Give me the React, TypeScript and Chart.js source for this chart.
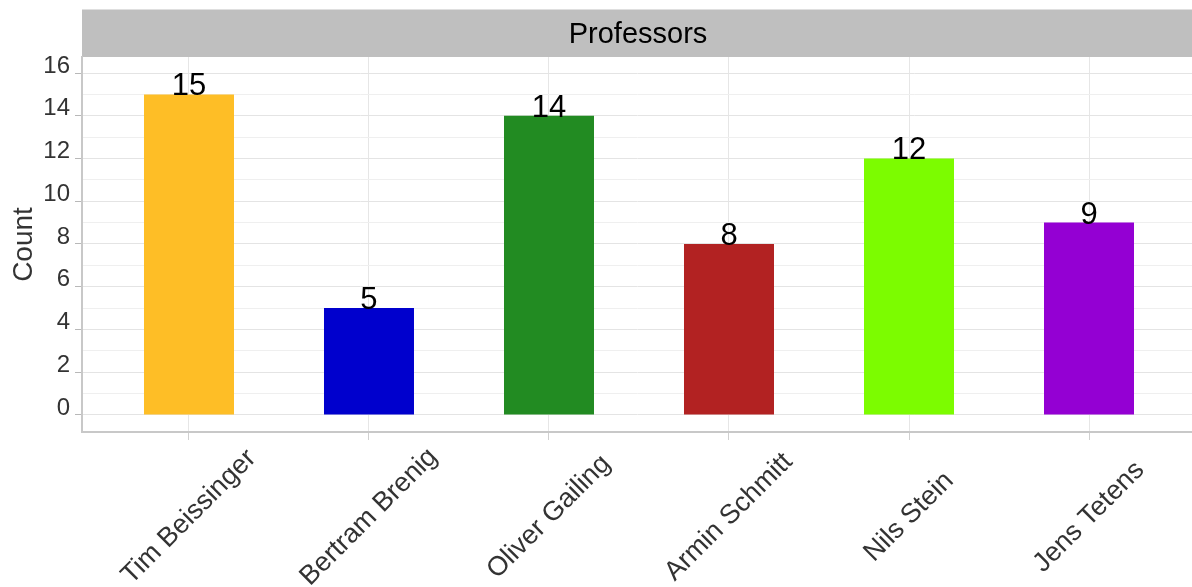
import React, { useEffect, useRef } from 'react';
import { Chart, registerables } from 'chart.js';

Chart.register(...registerables);

const categories = ['Tim Beissinger', 'Bertram Brenig', 'Oliver Gailing', 'Armin Schmitt', 'Nils Stein', 'Jens Tetens'];
const counts = [15, 5, 14, 8, 12, 9];
const barColors = ['#FEBE26', '#0000CD', '#228B22', '#B22222', '#7CFC00', '#9400D3'];
const yTickValues = [0, 1, 2, 3, 4, 5, 6, 7, 8, 9, 10, 11, 12, 13, 14, 15, 16];
const chartTitle = 'Professors';
const yAxisTitle = 'Count';

const FONT = '"Liberation Sans", Arial, Helvetica, sans-serif';

export default function App() {
  const ref = useRef<HTMLCanvasElement | null>(null);

  useEffect(() => {
    if (!ref.current) return;

    const titleBar = {
      id: 'titleBar',
      beforeDraw(chart: any) {
        const { ctx, chartArea } = chart;
        ctx.save();
        ctx.fillStyle = '#bfbfbf';
        ctx.fillRect(chartArea.left, 9.5, chartArea.right - chartArea.left, chartArea.top - 9.5);
        ctx.fillStyle = '#000';
        ctx.font = '29px ' + FONT;
        ctx.textAlign = 'center';
        ctx.textBaseline = 'alphabetic';
        ctx.fillText(chartTitle, (chartArea.left + chartArea.right) / 2 + 1, chartArea.top - 14);
        ctx.restore();
      },
    };

    const valueLabels = {
      id: 'valueLabels',
      afterDatasetsDraw(chart: any) {
        const { ctx } = chart;
        const meta = chart.getDatasetMeta(0);
        ctx.save();
        ctx.fillStyle = '#000';
        ctx.font = '31px ' + FONT;
        ctx.textAlign = 'center';
        ctx.textBaseline = 'alphabetic';
        meta.data.forEach((el: any, i: number) => {
          ctx.fillText(String(counts[i]), el.x, el.y + 1);
        });
        ctx.restore();
      },
    };

    const xLabels = {
      id: 'xLabels',
      afterDraw(chart: any) {
        const { ctx, chartArea } = chart;
        const xs = chart.scales.x;
        ctx.save();
        ctx.fillStyle = '#333';
        ctx.font = '27px ' + FONT;
        ctx.textAlign = 'center';
        ctx.textBaseline = 'middle';
        categories.forEach((c, i) => {
          const px = xs.getPixelForValue(i);
          ctx.save();
          ctx.translate(px, chartArea.bottom + 85);
          ctx.rotate(-Math.PI / 4);
          ctx.fillText(c, 0, 0);
          ctx.restore();
        });
        ctx.restore();
      },
    };

    const chart = new Chart(ref.current, {
      type: 'bar',
      data: {
        datasets: [
          {
            data: counts.map((v, i) => ({ x: i, y: v })),
            backgroundColor: barColors,
            borderWidth: 0,
            barPercentage: 0.5,
            categoryPercentage: 1,
          },
        ],
      },
      options: {
        animation: false,
        responsive: true,
        maintainAspectRatio: false,
        layout: { padding: { top: 57, left: 0, right: 0, bottom: 0 } },
        plugins: {
          legend: { display: false },
          title: { display: false },
          tooltip: { enabled: false },
        },
        scales: {
          x: {
            type: 'linear',
            min: -0.5944,
            max: 5.5722,
            offset: false,
            afterBuildTicks: (s: any) => {
              s.ticks = categories.map((_, i) => ({ value: i }));
            },
            afterFit: (s: any) => {
              s.height = 155;
            },
            ticks: { display: false },
            grid: {
              offset: false,
              color: '#e6e6e6',
              lineWidth: 1,
              drawTicks: true,
              tickLength: 8,
              tickColor: '#d0d0d0',
            },
            border: { display: true, color: '#c8c8c8', width: 2 },
          },
          y: {
            type: 'linear',
            min: -0.8,
            max: 16.75,
            afterBuildTicks: (s: any) => {
              s.ticks = yTickValues.map((v) => ({ value: v }));
            },
            afterFit: (s: any) => {
              s.width = 82;
            },
            ticks: {
              autoSkip: false,
              callback: (v: any) => (Number(v) % 2 === 0 ? String(v) : ''),
              font: { size: 24, family: FONT },
              color: '#333',
              padding: 5,
              labelOffset: -7,
            },
            grid: {
              color: (ctx: any) => (ctx.tick && ctx.tick.value % 2 === 0 ? '#e4e4e4' : '#efefef'),
              lineWidth: 1,
              drawTicks: true,
              tickLength: 7,
              tickColor: (ctx: any) => (ctx.tick && ctx.tick.value % 2 === 0 ? '#b8b8b8' : 'rgba(0,0,0,0)'),
            },
            border: { display: true, color: '#c8c8c8', width: 2 },
            title: {
              display: true,
              text: yAxisTitle,
              font: { size: 28, family: FONT },
              color: '#333',
              padding: { top: 7, bottom: 0 },
            },
          },
        },
      } as any,
      plugins: [titleBar, valueLabels, xLabels],
    });

    return () => chart.destroy();
  }, []);

  return (
    <div style={{ position: 'fixed', left: 0, top: 0, width: 1192, height: 587, background: '#fff' }}>
      <canvas ref={ref} />
    </div>
  );
}
